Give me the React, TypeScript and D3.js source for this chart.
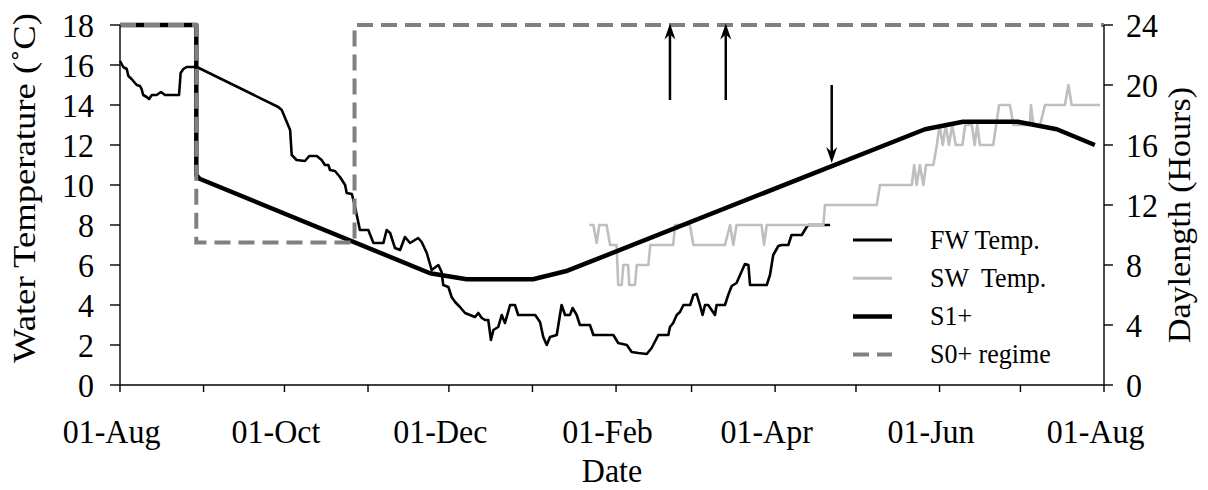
import React from "react";
import * as d3 from "d3";

// ---------- data (day = days after 01-Aug) ----------
const START = new Date(2006, 7, 1);
const END = new Date(2007, 7, 1);

const xTickLabels = ["01-Aug", "01-Oct", "01-Dec", "01-Feb", "01-Apr", "01-Jun", "01-Aug"];
const leftTicks = [0, 2, 4, 6, 8, 10, 12, 14, 16, 18];
const rightTicks = [0, 4, 8, 12, 16, 20, 24];

// Freshwater temperature (°C)
const fwTemp: [number, number][] = [
  [0, 16.2], [1.2, 15.9], [2.5, 15.8], [3.1, 15.45], [4.3, 15.3], [6.2, 15.0], [7.4, 14.95], [8.0, 14.8],
  [8.6, 14.5], [9.9, 14.4], [10.8, 14.3], [11.8, 14.5], [13.6, 14.5], [15.2, 14.65], [16.7, 14.5], [21.9, 14.5],
  [22.5, 15.6], [23.5, 15.8], [24.7, 15.9], [28.5, 15.9], [58.7, 13.9], [60, 13.75], [63.1, 12.75], [63.7, 11.5],
  [65.5, 11.25], [68.6, 11.2], [70.2, 11.45], [73, 11.45], [74.8, 11.25], [76, 11.0], [77.3, 11.0], [77.9, 10.75],
  [79.7, 10.7], [81.6, 10.4], [83.5, 10.0], [84.1, 9.6], [86, 9.55], [87.2, 8.9], [89, 7.75], [92.1, 7.75],
  [94, 7.1], [97.7, 7.1], [98.9, 7.75], [100.2, 7.6], [102, 6.85], [103.9, 6.75], [105.7, 7.4], [107.6, 7.1],
  [110.6, 7.35], [111.9, 7.15], [113.8, 6.6], [115.6, 5.75], [118.1, 6.0], [119.3, 5.65], [119.9, 5.0], [121.8, 4.9],
  [123, 4.4], [124.3, 4.15], [126.1, 3.9], [128, 3.6], [129.8, 3.5], [131.7, 3.4], [132.9, 3.6], [134.2, 3.35],
  [135.4, 3.25], [136.6, 3.25], [137.6, 2.25], [138.5, 2.75], [140.3, 2.9], [141.6, 3.5], [142.8, 3.1], [144.7, 4.0],
  [146.5, 4.0], [147.7, 3.5], [154, 3.5], [155.8, 3.15], [157, 2.4], [158.3, 2.0], [159.5, 2.4], [162, 2.5],
  [163.8, 4.0], [165.1, 3.5], [166.9, 3.5], [167.9, 3.85], [169.4, 3.5], [170.6, 3.0], [174.3, 3.0], [175.6, 2.5],
  [183, 2.5], [184.8, 2.1], [188, 2.0], [189.8, 1.65], [192.3, 1.6], [195.4, 1.55], [197.2, 1.85], [199.7, 2.5],
  [203.4, 2.5], [204, 2.9], [205.2, 3.1], [206.5, 3.5], [207.7, 3.65], [209, 4.0], [211.5, 4.0], [212.7, 4.5],
  [213.9, 4.55], [215.1, 4.0], [216.1, 3.5], [217, 4.0], [218.2, 4.0], [220.7, 3.5], [221.3, 4.0], [224.4, 4.0],
  [225.6, 4.5], [226.9, 4.95], [228.7, 5.1], [230, 5.5], [231.8, 6.05], [233.1, 6.0], [233.7, 5.0], [239.9, 5.0],
  [241.1, 5.5], [242.3, 6.5], [244.2, 6.95], [245.4, 7.0], [247.9, 7.0], [249.1, 7.5], [252.9, 7.5], [254.7, 7.9],
  [255.3, 8.0], [263.4, 8.0],
];

// Seawater temperature (°C)
const swTemp: [number, number][] = [
  [174.1, 8], [175.6, 8], [176.8, 7.1], [177.8, 8], [180.5, 8], [181.8, 7], [184.2, 7], [184.8, 5], [186.1, 5],
  [186.7, 6], [188.5, 6], [188.9, 5], [191, 5], [191.7, 6], [196, 6], [196.7, 7], [205.2, 7], [205.9, 8],
  [211.4, 8], [212.7, 7], [224.4, 7], [226.3, 8], [227.5, 7], [228.7, 8], [238, 8], [238.9, 7], [239.9, 8],
  [260.9, 8], [261.5, 9], [280.7, 9], [281.9, 10], [293.7, 10], [294.6, 11], [295.5, 10], [296.7, 11], [298, 10],
  [299, 11], [301.7, 11], [303, 12], [304, 13], [305.2, 12], [306.3, 13], [307.5, 12], [308.7, 13], [310, 12],
  [312.5, 12], [313.5, 13], [316, 13], [317, 12], [318, 13], [319, 12], [323.9, 12], [326.1, 14], [330.1, 14],
  [331.4, 13], [337.5, 13], [337.9, 14], [338.8, 13], [341.3, 13], [343.1, 14], [350.5, 14], [351.8, 15],
  [353, 14], [363.5, 14],
];

// S1+ daylength (hours)
const s1Daylength: [number, number][] = [
  [0, 24], [28.3, 24], [28.3, 14.0], [29.5, 13.75], [115, 7.45], [128.6, 7.05], [153.2, 7.05], [166, 7.62],
  [298.6, 17.05], [312.7, 17.55], [333, 17.55], [347.5, 17.05], [361.6, 16.0],
];

// S0+ regime daylength (hours)
const s0Daylength: [number, number][] = [
  [0, 24], [28.3, 24], [28.3, 9.5], [87, 9.5], [87, 24], [365, 24],
];

// arrows: day, from (h), to (h)
const arrows: { day: number; from: number; to: number }[] = [
  { day: 204, from: 19, to: 24.1 },
  { day: 224.7, from: 19, to: 24.1 },
  { day: 264, from: 20, to: 14.8 },
];

const legendItems = [
  { label: "FW Temp.", color: "#000", width: 3, dash: "" },
  { label: "SW  Temp.", color: "#bfbfbf", width: 3, dash: "" },
  { label: "S1+", color: "#000", width: 4.5, dash: "" },
  { label: "S0+ regime", color: "#808080", width: 4, dash: "16,8" },
];

// ---------- layout ----------
const W = 1208;
const H = 490;
const M = { left: 120, right: 1104, top: 25, bottom: 385 };
const FONT = "Liberation Serif, Times New Roman, serif";
const SY = 1.08;

const dayToDate = (d: number) => new Date(START.getTime() + d * 86400000);

function HText(props: { x: number; y: number; size: number; anchor?: string; sy?: number; children: React.ReactNode }) {
  const sy = props.sy ?? SY;
  return (
    <g transform={`translate(${props.x},${props.y}) scale(1,${sy})`}>
      <text
        x={0}
        y={0}
        textAnchor={props.anchor || "start"}
        fill="#000"
        style={{ whiteSpace: "pre", fontFamily: FONT, fontSize: props.size + "px" }}
      >
        {props.children}
      </text>
    </g>
  );
}

export default function App() {
  const x = d3.scaleTime().domain([START, END]).range([M.left, M.right]);
  const yL = d3.scaleLinear().domain([0, 18]).range([M.bottom, M.top]);
  const yR = d3.scaleLinear().domain([0, 24]).range([M.bottom, M.top]);

  const lineL = d3.line<[number, number]>().x((d) => x(dayToDate(d[0]))).y((d) => yL(d[1]));
  const lineR = d3.line<[number, number]>().x((d) => x(dayToDate(d[0]))).y((d) => yR(d[1]));

  const months = d3.timeMonth.range(START, d3.timeDay.offset(END, 1));

  return (
    <svg width={W} height={H} style={{ position: "absolute", left: 0, top: 0, display: "block", background: "#fff" }}>
      {/* series */}
      <path d={lineL(fwTemp) || ""} fill="none" stroke="#000" strokeWidth={2.6} strokeLinejoin="round" />
      <path d={lineL(swTemp) || ""} fill="none" stroke="#bfbfbf" strokeWidth={2.6} strokeLinejoin="round" />
      <path d={lineR(s1Daylength) || ""} fill="none" stroke="#000" strokeWidth={4.5} strokeLinejoin="round" />
      <path d={lineR(s0Daylength) || ""} fill="none" stroke="#808080" strokeWidth={4} strokeDasharray="16,8" />

      {/* arrows */}
      {arrows.map((a, i) => {
        const ax = x(dayToDate(a.day));
        const y0 = yR(a.from);
        const y1 = yR(a.to);
        const dir = y1 < y0 ? 1 : -1;
        const hl = 16;
        const hw = 5.5;
        const notch = 11;
        const head = `M${ax},${y1} L${ax - hw},${y1 + dir * hl} L${ax},${y1 + dir * notch} L${ax + hw},${y1 + dir * hl} Z`;
        return (
          <g key={i}>
            <line x1={ax} x2={ax} y1={y0} y2={y1 + dir * notch} stroke="#000" strokeWidth={2.5} />
            <path d={head} fill="#000" />
          </g>
        );
      })}

      {/* axes */}
      <line x1={M.left} x2={M.right} y1={M.bottom} y2={M.bottom} stroke="#000" strokeWidth={1.4} />
      <line x1={M.left} x2={M.left} y1={M.top} y2={M.bottom} stroke="#000" strokeWidth={1.4} />
      <line x1={M.right} x2={M.right} y1={M.top} y2={M.bottom} stroke="#000" strokeWidth={1.4} />

      {months.map((m, i) => (
        <line key={"xt" + i} x1={x(m)} x2={x(m)} y1={M.bottom} y2={M.bottom + 7} stroke="#000" strokeWidth={1.4} />
      ))}
      {months.filter((_, i) => i % 2 === 0).map((m, i) => (
        <HText key={"xl" + i} x={x(m) - 8.5} y={443} size={32} anchor="middle">
          {xTickLabels[i]}
        </HText>
      ))}

      {leftTicks.map((t) => (
        <g key={"lt" + t}>
          <line x1={M.left - 10} x2={M.left} y1={yL(t)} y2={yL(t)} stroke="#000" strokeWidth={1.4} />
          <HText x={94} y={yL(t) + 12} size={32} anchor="end">{t}</HText>
        </g>
      ))}
      {rightTicks.map((t) => (
        <g key={"rt" + t}>
          <line x1={M.right} x2={M.right + 9} y1={yR(t)} y2={yR(t)} stroke="#000" strokeWidth={1.4} />
          <HText x={1126} y={yR(t) + 12} size={32} anchor="start">{t}</HText>
        </g>
      ))}

      {/* axis titles */}
      <HText x={(M.left + M.right) / 2} y={482} size={32} sy={1.05} anchor="middle">Date</HText>
      <text
        transform={`translate(35,188) rotate(-90)`}
        textAnchor="middle"
        textLength={350}
        lengthAdjust="spacingAndGlyphs"
        style={{ fontFamily: FONT, fontSize: "32px" }}
      >
        Water Temperature (˚C)
      </text>
      <text
        transform={`translate(1190,215) rotate(-90)`}
        textAnchor="middle"
        textLength={256}
        lengthAdjust="spacingAndGlyphs"
        style={{ fontFamily: FONT, fontSize: "32px" }}
      >
        Daylength (Hours)
      </text>

      {/* legend */}
      {legendItems.map((it, i) => {
        const ly = 240 + i * 38.2;
        return (
          <g key={"lg" + i}>
            <line x1={853} x2={892} y1={ly} y2={ly} stroke={it.color} strokeWidth={it.width} strokeDasharray={it.dash || undefined} />
            <HText x={930} y={ly + 8.5} size={26} anchor="start">{it.label}</HText>
          </g>
        );
      })}
    </svg>
  );
}
